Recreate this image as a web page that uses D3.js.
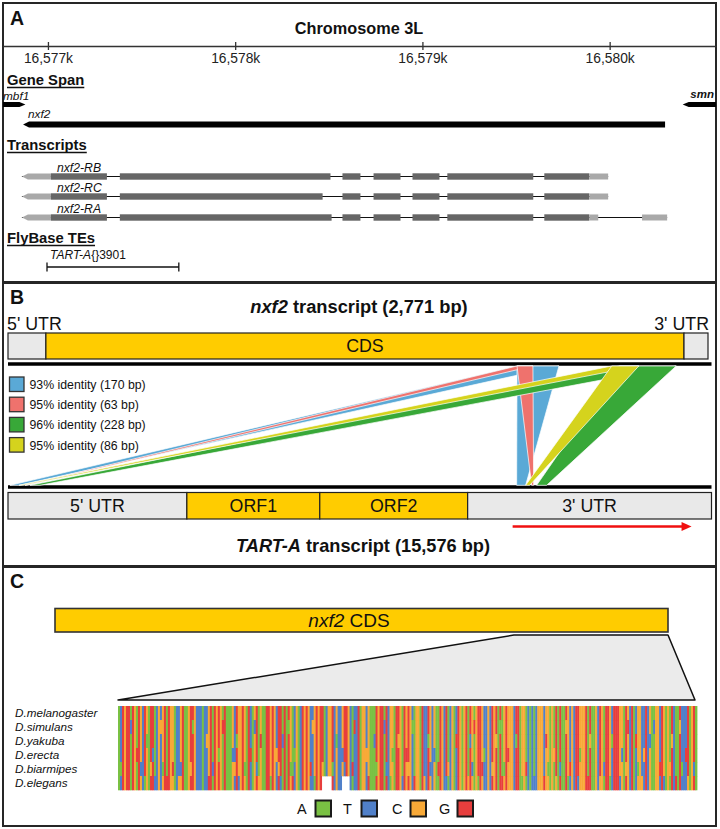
<!DOCTYPE html>
<html><head><meta charset="utf-8">
<script src="https://cdn.jsdelivr.net/npm/d3@7"></script>
<style>body{margin:0;background:#fff}svg{display:block}text{font-family:"Liberation Sans",Arial,sans-serif}</style>
</head><body><svg id="c" width="720" height="829"></svg>
<script>
// ---------- DATA ----------
// Panel A (genomic coordinates, chromosome 3L)
const chromDomain = [16576760, 16580568];
const chromTicks = [16577000, 16578000, 16579000, 16580000];
const geneNames = ["mbf1", "nxf2", "smn"];
const geneStarts = [16576740, 16576867, 16580390];
const geneEnds = [16576880, 16580296, 16580600];
const geneStrands = [1, -1, -1];
const transcriptNames = ["nxf2-RB", "nxf2-RC", "nxf2-RA"];
const transcriptLeftUTR = [[16576861, 16577016], [16576861, 16577016], [16576861, 16577016]];
const transcriptExons = [
  [[16577016,16577315],[16577384,16578509],[16578573,16578669],[16578739,16578883],[16578947,16579091],[16579133,16579592],[16579651,16579891]],
  [[16577016,16577315],[16577384,16578467],[16578573,16578669],[16578739,16578883],[16578947,16579091],[16579133,16579592],[16579651,16579891]],
  [[16577016,16577315],[16577384,16578515],[16578573,16578669],[16578739,16578883],[16578947,16579091],[16579133,16579592],[16579651,16579891]]
];
const transcriptRightUTR = [
  [[16579891,16579992]],
  [[16579891,16579992]],
  [[16579891,16579939],[16580173,16580307]]
];
const teName = ["TART-A", "{}3901"];
const teSpan = [16576995, 16577699];

// Panel B
const nxf2Length = 2771;
const nxf2RegionNames = ["5' UTR", "CDS", "3' UTR"];
const nxf2RegionStarts = [0, 150, 2676];
const nxf2RegionEnds = [150, 2676, 2771];
const tartLength = 15576;
const tartRegionNames = ["5' UTR", "ORF1", "ORF2", "3' UTR"];
const tartRegionStarts = [0, 3960, 6903, 10177];
const tartRegionEnds = [3960, 6903, 10177, 15576];
const tartArrow = [11173, 15134];
const hitLabels = ["93% identity (170 bp)", "95% identity (63 bp)", "96% identity (228 bp)", "95% identity (86 bp)"];
const hitColors = ["#5aa9d6", "#ef726d", "#38a838", "#d5d31d"];
const hitNxf2Start = [2015, 2015, 2420, 2390];
const hitNxf2End = [2181, 2078, 2645, 2497];
const hitTart5Start = [44, 376, 487, 243];
const hitTart5End = [243, 420, 708, 332];
const hitTart3Start = [11262, 11594, 11704, 11461];
const hitTart3End = [11461, 11638, 11925, 11550];
const legendOrder = [0, 1, 2, 3];

// Panel C
const cdsLength = 2526;
const zoomRegion = [1891, 2526];
const species = ["D.melanogaster", "D.simulans", "D.yakuba", "D.erecta", "D.biarmipes", "D.elegans"];
const consensus =
  "ATGCGGAGCAGCTGCAGGATCTCGAGCCATTCGAACGGCTTTATTCGAGC" +
  "GCAGAAACTGCCGCAGTACGACAAGGCGCTGGAGAGCATCATGCGCTTCG" +
  "CGGATCCGTCTTCGGCTATTGACCTCAAAGCGGAGTCCAGGCAGCGCTAC" +
  "CAGTTGCTCAAGCTGATCATGCACGAGCACGGCTTCTGCGAGACGCCCTG" +
  "GACCATATATCCCTCCACAGAGAAGCTCTGGCCCGAGAACTGCAGGCTGG" +
  "GCCAGCTGATCCTTGTCAACCTGCACAGTAAGTTTGACGA";
const substitutions = [
  "",
  "6T 21C 37A 52G 68T 85A 97C 118G 133T 147A 162C 178G 191A 207T 224C 238A 255G 268T 281C",
  "3C 14A 25G 40T 44C 59A 71G 82T 95C 109A 120G 128T 140C 155A 169G 176T 189C 199A 214G 228T 236C 247A 259G 266T 277C 286A",
  "9G 17T 28A 38C 50A 57T 66G 79C 88A 99G 112T 124C 137A 144G 158T 171C 183A 195G 209T 218C 231A 245G 252T 263C 274A 284G",
  "1A 5G 11T 16C 22A 27G 31T 36C 42A 47T 53G 58C 63A 69T 74G 80C 86A 91T 96G 102C 107A 113T 117G 123C 129A 134T 139G 145C 151A 156T 160G 165C 172A 177T 182G 187C 193A 198T 204G 210C 215A 221T 226G 232C 237A 243T 249G 254C 260A 265T 271G 276C 282A 288T",
  "2G 8C 13A 18T 24G 30C 34A 39T 45G 51C 55A 60T 65G 70C 76A 81T 87G 93C 98A 119T 125G 130C 136A 142T 148G 153C 159A 164T 170G 175C 180A 186T 192G 197C 202A 208T 213G 219C 225A 230T 235G 241C 246A 251T 257G 262C 267A 273T 279G 285C"
];
const gaps = [[], [], [], [], [], [[102, 106], [112, 115]]];
const bases = ["A", "T", "C", "G"];
const baseColors = ["#7ac143", "#5080c9", "#f8a937", "#e73e3d"];

// ---------- DRAW ----------
const svg = d3.select("#c");
const DARK = "#262626";

function label(x, y, parts, size, anchor, weight) {
  const t = svg.append("text").attr("x", x).attr("y", y).attr("font-size", size)
    .attr("text-anchor", anchor || "start").attr("font-weight", weight || "normal").attr("fill", "#111");
  parts.forEach(p => t.append("tspan").attr("font-style", p[1] ? "italic" : "normal").text(p[0]));
  return t;
}
function underlined(x, y, s, size) {
  const t = label(x, y, [[s, false]], size, "start", "bold");
  const w = t.node().getComputedTextLength();
  svg.append("line").attr("x1", x).attr("x2", x + w).attr("y1", y + 2.5).attr("y2", y + 2.5)
    .attr("stroke", "#111").attr("stroke-width", 1.4);
}

// panel frames
[[3, 3, 279], [3, 283, 283], [3, 567, 259]].forEach(b => {
  svg.append("rect").attr("x", b[0]).attr("y", b[1]).attr("width", 713).attr("height", b[2])
    .attr("fill", "none").attr("stroke", DARK).attr("stroke-width", 2);
});

// ===== Panel A =====
label(10, 25, [["A", false]], 19.5, "start", "bold");
label(359, 34, [["Chromosome 3L", false]], 16.3, "middle", "bold");
const xg = d3.scaleLinear().domain(chromDomain).range([3, 716]);
const axis = d3.axisBottom(xg).tickValues(chromTicks).tickSizeInner(4).tickSizeOuter(0).tickPadding(3.5)
  .tickFormat(d => d3.format(",")(d / 1000) + "k");
const ag = svg.append("g").attr("transform", "translate(0,46)").call(axis);
ag.select(".domain").attr("stroke", "#333").attr("stroke-width", 1.5);
ag.selectAll(".tick line").attr("y1", -4).attr("stroke", "#333").attr("stroke-width", 1.3);
ag.selectAll(".tick text").attr("font-size", 13.8).attr("fill", "#222")
  .attr("font-family", '"Liberation Sans", Arial, sans-serif');

underlined(7, 85, "Gene Span", 14.8);
const geneY = [104.5, 124.5, 104.5];
const geneH = [5, 6, 5];
geneNames.forEach((n, i) => {
  const x0 = Math.max(xg(geneStarts[i]), 3), x1 = Math.min(xg(geneEnds[i]), 716);
  const y = geneY[i], h = geneH[i] / 2, tip = 6;
  let pts;
  if (geneStrands[i] > 0) pts = [[x0, y - h], [x1 - tip, y - h], [x1, y], [x1 - tip, y + h], [x0, y + h]];
  else pts = [[x0, y], [x0 + tip, y - h], [x1, y - h], [x1, y + h], [x0 + tip, y + h]];
  svg.append("polygon").attr("points", pts.map(p => p.join(",")).join(" ")).attr("fill", "#000");
});
label(3, 100, [["mbf1", true]], 11.8);
label(28, 118, [["nxf2", true]], 11.8);
label(714, 98, [["smn", true]], 11.5, "end", "bold");

underlined(7, 150, "Transcripts", 14.8);
const trY = [176.5, 196.5, 217.5];
transcriptNames.forEach((n, i) => {
  const y = trY[i];
  const utrL = transcriptLeftUTR[i], ex = transcriptExons[i], utrR = transcriptRightUTR[i];
  const xEnd = xg(d3.max(utrR, d => d[1]));
  svg.append("line").attr("x1", xg(utrL[0])).attr("x2", xEnd).attr("y1", y).attr("y2", y)
    .attr("stroke", "#111").attr("stroke-width", 1.2);
  const a = xg(utrL[0]), b = xg(utrL[1]);
  svg.append("polygon").attr("points", [[a, y], [a + 6, y - 3], [b, y - 3], [b, y + 3], [a + 6, y + 3]].map(p => p.join(",")).join(" "))
    .attr("fill", "#a9a9a9");
  ex.forEach(e => svg.append("rect").attr("x", xg(e[0])).attr("y", y - 3.2).attr("width", xg(e[1]) - xg(e[0])).attr("height", 6.4)
    .attr("fill", "#666"));
  utrR.forEach(e => svg.append("rect").attr("x", xg(e[0])).attr("y", y - 3).attr("width", xg(e[1]) - xg(e[0])).attr("height", 6)
    .attr("fill", "#a9a9a9"));
  label(57, y - 5, [[n, true]], 12.2);
});

underlined(7, 243, "FlyBase TEs", 14.8);
{
  const a = xg(teSpan[0]), b = xg(teSpan[1]), y = 267;
  svg.append("line").attr("x1", a).attr("x2", b).attr("y1", y).attr("y2", y).attr("stroke", "#111").attr("stroke-width", 1.3);
  [a, b].forEach(x => svg.append("line").attr("x1", x).attr("x2", x).attr("y1", y - 4.5).attr("y2", y + 4.5).attr("stroke", "#111").attr("stroke-width", 1.3));
  label(a + 3, 259, [[teName[0], true], [teName[1], false]], 12);
}

// ===== Panel B =====
label(10, 304, [["B", false]], 19.5, "start", "bold");
label(359, 313, [["nxf2", true], [" transcript (2,771 bp)", false]], 18.3, "middle", "bold");
const xn = d3.scaleLinear().domain([0, nxf2Length]).range([8, 708]);
const xt = d3.scaleLinear().domain([0, tartLength]).range([8, 711.5]);
label(7, 330, [[nxf2RegionNames[0], false]], 17.8);
label(709, 330, [[nxf2RegionNames[2], false]], 17.8, "end");
nxf2RegionNames.forEach((n, i) => {
  svg.append("rect").attr("x", xn(nxf2RegionStarts[i])).attr("y", 333).attr("width", xn(nxf2RegionEnds[i]) - xn(nxf2RegionStarts[i]))
    .attr("height", 26).attr("fill", n === "CDS" ? "#ffcc00" : "#e9e9e9").attr("stroke", "#222").attr("stroke-width", 1.2);
});
label((xn(nxf2RegionStarts[1]) + xn(nxf2RegionEnds[1])) / 2, 352, [["CDS", false]], 17.8, "middle");
[364, 487].forEach(y => svg.append("line").attr("x1", 8).attr("x2", 711.5).attr("y1", y).attr("y2", y)
  .attr("stroke", "#000").attr("stroke-width", 3.5));

const yTop = 366, yBot = 485.3;
[0, 1, 2, 3].forEach(i => {
  const a = xn(hitNxf2Start[i]), b = xn(hitNxf2End[i]);
  [[hitTart5Start[i], hitTart5End[i]], [hitTart3Start[i], hitTart3End[i]]].forEach(t => {
    const c = xt(t[0]), d = xt(t[1]);
    svg.append("polygon").attr("points", [[a, yTop], [b, yTop], [d, yBot], [c, yBot]].map(p => p.join(",")).join(" "))
      .attr("fill", hitColors[i]).attr("stroke", "#fff").attr("stroke-width", 0.7).attr("stroke-linejoin", "round");
  });
});
legendOrder.forEach((i, k) => {
  const y = 377 + k * 20.2;
  svg.append("rect").attr("x", 9.5).attr("y", y).attr("width", 14.5).attr("height", 14.5)
    .attr("fill", hitColors[i]).attr("stroke", "#333").attr("stroke-width", 1.3);
  label(29.5, y + 12, [[hitLabels[i], false]], 12.3);
});

tartRegionNames.forEach((n, i) => {
  const a = xt(tartRegionStarts[i]), b = xt(tartRegionEnds[i]);
  svg.append("rect").attr("x", a).attr("y", 492.5).attr("width", b - a).attr("height", 26.5)
    .attr("fill", n.indexOf("ORF") === 0 ? "#ffcc00" : "#e9e9e9").attr("stroke", "#222").attr("stroke-width", 1.2);
  label((a + b) / 2, 512, [[n, false]], 17.8, "middle");
});
{
  const a = xt(tartArrow[0]), b = xt(tartArrow[1]), y = 526.5;
  svg.append("line").attr("x1", a).attr("x2", b - 8).attr("y1", y).attr("y2", y).attr("stroke", "#f01010").attr("stroke-width", 2.6);
  svg.append("polygon").attr("points", `${b},${y} ${b - 10},${y - 4.5} ${b - 10},${y + 4.5}`).attr("fill", "#f01010");
}
label(363, 552, [["TART-A", true], [" transcript (15,576 bp)", false]], 18.2, "middle", "bold");

// ===== Panel C =====
label(10, 588, [["C", false]], 19.5, "start", "bold");
const xc = d3.scaleLinear().domain([0, cdsLength]).range([55, 668]);
svg.append("rect").attr("x", xc(0)).attr("y", 608.5).attr("width", xc(cdsLength) - xc(0)).attr("height", 23.5)
  .attr("fill", "#ffcc00").attr("stroke", "#333").attr("stroke-width", 1.6);
label(349, 627, [["nxf2", true], [" CDS", false]], 19, "middle");

const xa = d3.scaleBand().domain(d3.range(consensus.length)).range([118, 697]);
const ya = d3.scaleBand().domain(species).range([706, 790]);
svg.append("polygon").attr("points", [[xc(zoomRegion[0]), 635], [xc(zoomRegion[1]), 635], [695, 700], [118, 700]].map(p => p.join(",")).join(" "))
  .attr("fill", "#ebebeb").attr("stroke", "#111").attr("stroke-width", 1.5).attr("stroke-linejoin", "round");

const colorOf = b => baseColors[bases.indexOf(b)];
species.forEach((sp, r) => {
  const seq = consensus.split("");
  substitutions[r].split(" ").filter(s => s).forEach(s => { seq[+s.slice(0, -1)] = s.slice(-1); });
  gaps[r].forEach(g => { for (let k = g[0]; k <= g[1]; k++) seq[k] = "-"; });
  seq.forEach((b, k) => {
    if (b === "-") return;
    svg.append("rect").attr("x", xa(k)).attr("y", ya(sp)).attr("width", xa.bandwidth() + 0.4).attr("height", ya.bandwidth() + 0.3)
      .attr("fill", colorOf(b));
  });
  label(15, ya(sp) + 11, [[sp, true]], 11.7);
});

const legX = [297, 343, 392, 439];
bases.forEach((b, i) => {
  label(legX[i], 814, [[b, false]], 14.5);
  svg.append("rect").attr("x", legX[i] + 18.5).attr("y", 800.5).attr("width", 15.5).attr("height", 16)
    .attr("fill", baseColors[i]).attr("stroke", "#1a1a1a").attr("stroke-width", 2);
});
</script></body></html>
